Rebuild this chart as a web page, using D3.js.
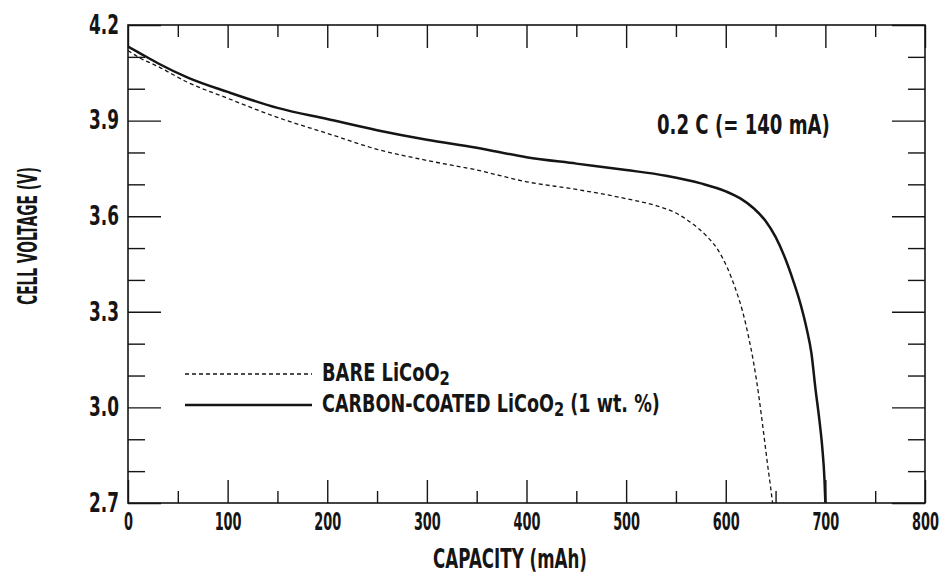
<!DOCTYPE html>
<html>
<head>
<meta charset="utf-8">
<script src="https://cdn.jsdelivr.net/npm/d3@7"></script>
<style>
  body { margin: 0; background: #fff; }
  svg text { font-family: "DejaVu Sans", sans-serif; font-weight: bold; fill: #151515; }
</style>
</head>
<body>
<svg id="chart" width="946" height="588"></svg>
<script>
// discharge curves (capacity mAh -> cell voltage V)
const capBare   = [0, 10, 30, 60, 100, 150, 200, 250, 300, 350, 400, 450, 500, 530, 550, 565, 580, 592, 602, 610, 617, 623, 628, 633, 638, 642, 645, 647]
const voltBare  = [4.12, 4.10, 4.07, 4.02, 3.97, 3.91, 3.86, 3.81, 3.775, 3.745, 3.708, 3.684, 3.655, 3.633, 3.61, 3.58, 3.54, 3.495, 3.435, 3.37, 3.30, 3.22, 3.14, 3.04, 2.92, 2.82, 2.75, 2.70]
const capCoated  = [0, 10, 30, 60, 100, 150, 200, 250, 300, 350, 400, 450, 500, 540, 575, 600, 615, 628, 640, 650, 660, 668, 675, 681, 686, 690, 694, 697, 699, 700]
const voltCoated = [4.132, 4.115, 4.08, 4.035, 3.99, 3.94, 3.905, 3.87, 3.84, 3.815, 3.785, 3.765, 3.745, 3.727, 3.703, 3.678, 3.655, 3.625, 3.585, 3.535, 3.465, 3.395, 3.325, 3.25, 3.17, 3.06, 2.96, 2.87, 2.78, 2.70]

const xTickValues = [0, 100, 200, 300, 400, 500, 600, 700, 800]
const yTickValues = [2.7, 3.0, 3.3, 3.6, 3.9, 4.2]
const legendLabels = ["BARE LiCoO", "CARBON-COATED LiCoO"]
const rateLabel = "0.2 C (= 140 mA)"

const svg = d3.select("#chart")
const pLeft = 128, pRight = 925, pTop = 25, pBottom = 503

const x = d3.scaleLinear().domain([0, 800]).range([pLeft, pRight])
const y = d3.scaleLinear().domain([2.7, 4.2]).range([pBottom, pTop])

const xMinor = d3.range(50, 800, 100)
const yMinor = d3.range(27, 43).map(v => v / 10).filter(v => !yTickValues.some(t => Math.abs(t - v) < 1e-6))

// the figure uses a narrow typeface: squeeze labels so that a sample label gets the width seen in the figure
const squeeze = (sel, sample, width) => {
    const nodes = sel.nodes()
    const ref = nodes.find(n => n.textContent === sample)
    const sx = width / ref.getComputedTextLength()
    sel.each(function () {
        const t = d3.select(this)
        const x0 = +t.attr("x") || 0
        t.attr("x", x0 / sx).attr("transform", `scale(${sx},1)`)
    })
}

// free text squeezed to a given width
const label = (pos, width, size, anchor) => {
    const g = svg.append("g")
    const t = g.append("text").attr("font-size", size).attr("text-anchor", anchor || "start")
    return { t, fit: () => g.attr("transform", `${pos} scale(${width / t.node().getComputedTextLength()},1)`) }
}

// ticks, all pointing inwards
const tickAxis = (axis, pos, vals, size, labels) => {
    const g = svg.append("g").attr("transform", pos)
        .call(axis.tickValues(vals).tickSize(size).tickPadding(labels ? 9 : 0)
            .tickFormat(labels ? labels : () => ""))
    g.select(".domain").remove()
    g.selectAll("line").attr("stroke", "#151515").attr("stroke-width", 1.4)
    return g
}

const bx = tickAxis(d3.axisBottom(x), `translate(0,${pBottom})`, xTickValues, -23, d3.format("d"))
bx.selectAll("text").attr("font-size", 25).attr("fill", "#151515")
squeeze(bx.selectAll("text"), "800", 27)
tickAxis(d3.axisBottom(x), `translate(0,${pBottom})`, xMinor, -12)
tickAxis(d3.axisTop(x), `translate(0,${pTop})`, xTickValues, -23)
tickAxis(d3.axisTop(x), `translate(0,${pTop})`, xMinor, -12)

const ly = tickAxis(d3.axisLeft(y), `translate(${pLeft},0)`, yTickValues, -33, d3.format(".1f"))
ly.selectAll("text").attr("font-size", 26).attr("fill", "#151515")
squeeze(ly.selectAll("text"), "4.2", 30)
tickAxis(d3.axisLeft(y), `translate(${pLeft},0)`, yMinor, -17)
tickAxis(d3.axisRight(y), `translate(${pRight},0)`, yTickValues, -33)
tickAxis(d3.axisRight(y), `translate(${pRight},0)`, yMinor, -17)

// frame
svg.append("rect")
    .attr("x", pLeft).attr("y", pTop)
    .attr("width", pRight - pLeft).attr("height", pBottom - pTop)
    .attr("fill", "none").attr("stroke", "#151515").attr("stroke-width", 1.6)

// curves
svg.append("clipPath").attr("id", "plot")
    .append("rect").attr("x", pLeft).attr("y", pTop).attr("width", pRight - pLeft).attr("height", pBottom - pTop)

const line = d3.line().x(d => x(d[0])).y(d => y(d[1])).curve(d3.curveMonotoneX)
const plot = svg.append("g").attr("clip-path", "url(#plot)")

plot.append("path")
    .datum(d3.zip(capBare, voltBare))
    .attr("d", line)
    .attr("fill", "none").attr("stroke", "#151515")
    .attr("stroke-width", 1.3).attr("stroke-dasharray", "4,3")

plot.append("path")
    .datum(d3.zip(capCoated, voltCoated))
    .attr("d", line)
    .attr("fill", "none").attr("stroke", "#151515")
    .attr("stroke-width", 2.5)

// legend
const legend = [
    { label: legendLabels[0], tail: "", dash: "4,3", w: 1.3, ly: 374, width: 128 },
    { label: legendLabels[1], tail: " (1 wt. %)", dash: null, w: 2.5, ly: 405, width: 338 }
]
legend.forEach(d => {
    svg.append("line")
        .attr("x1", 185).attr("x2", 312).attr("y1", d.ly).attr("y2", d.ly)
        .attr("stroke", "#151515").attr("stroke-width", d.w)
        .attr("stroke-dasharray", d.dash)
    const l = label(`translate(322,${d.ly + 7})`, d.width, 24)
    l.t.append("tspan").text(d.label)
    l.t.append("tspan").attr("dy", 4).attr("font-size", 20).text("2")
    if (d.tail) l.t.append("tspan").attr("dy", -4).text(d.tail)
    l.fit()
})

// rate annotation
const rate = label("translate(657,134)", 173, 26)
rate.t.text(rateLabel)
rate.fit()

// axis titles
const xTitle = label("translate(510,568)", 154, 26, "middle")
xTitle.t.text("CAPACITY (mAh)")
xTitle.fit()

const yTitle = label("translate(37,236) rotate(-90)", 138, 26, "middle")
yTitle.t.text("CELL VOLTAGE (V)")
yTitle.fit()
</script>
</body>
</html>
